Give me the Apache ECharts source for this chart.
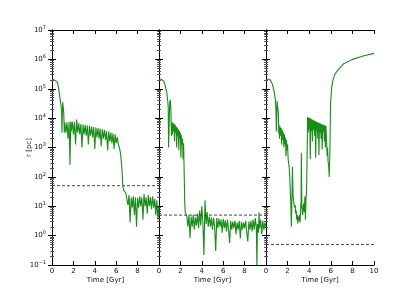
<!DOCTYPE html>
<html>
<head>
<meta charset="utf-8">
<script src="https://cdn.jsdelivr.net/npm/echarts@6/dist/echarts.min.js"></script>
<style>html,body{margin:0;padding:0;background:#fff}#c{width:416px;height:295px}</style>
</head>
<body>
<div id="c"></div>
<script>
// ---- data: [time Gyr, r pc] ----
const panel1 = [
 [0,2.0e5],[0.2,2.0e5],[0.38,1.95e5],[0.47,1.75e5],[0.56,1.4e5],[0.65,8.5e4],[0.75,5e4],[0.84,2.6e4],[0.9,1.8e4],[0.93,3.2e3],[1.0,3.5e4],[1.06,4.0e4],[1.1,1.5e4],[1.15,3.2e3],
 [1.2,7100],[1.3,3200],[1.4,7200],[1.5,2000],[1.6,7400],[1.68,260],[1.75,7600],[1.8,3500],[1.9,7600],[2.0,2800],[2.1,7400],[2.2,1260],[2.3,8900],[2.4,3200],
 [2.5,6600],[2.6,2800],[2.7,6300],[2.8,1000],[2.9,6000],[3.0,2800],[3.1,5800],[3.2,2500],[3.3,5600],[3.4,1260],[3.5,5500],[3.6,2500],[3.7,5200],[3.8,2200],
 [3.9,5000],[4.0,890],[4.1,4800],[4.2,2200],[4.3,4600],[4.4,2000],[4.5,4400],[4.6,1100],[4.7,4200],[4.8,2000],[4.9,4000],[5.0,1800],[5.1,3600],[5.2,800],
 [5.3,3500],[5.4,1600],[5.5,3200],[5.6,1400],[5.7,3000],[5.8,890],[5.9,2800],[6.0,1400],[6.1,2200],[6.2,1260],[6.3,1000],[6.4,630],[6.5,280],[6.55,160],
 [6.6,56],[6.7,35],[6.8,32],[6.9,28],[7.0,25],[7.1,11],[7.2,24],[7.3,2.8],[7.4,20],[7.5,8.9],[7.6,22],[7.7,5.0],[7.8,20],[7.9,2.0],[8.0,19],[8.1,8.9],
 [8.2,22],[8.3,10],[8.4,20],[8.5,3.5],[8.6,26],[8.7,10],[8.8,20],[8.9,5.6],[9.0,24],[9.1,10],[9.2,20],[9.3,7.9],[9.4,22],[9.5,8.9],[9.6,18],[9.7,5.0],
 [9.8,16],[9.9,3.5],[10.0,10]
];
const panel2 = [
 [0,2.1e5],[0.2,2.1e5],[0.35,2.0e5],[0.45,1.8e5],[0.55,1.4e5],[0.65,1.0e5],[0.72,8e4],[0.81,4e4],[0.86,2.5e4],[0.9,1.0e3],[1.0,3.5e4],[1.07,4.2e4],[1.12,1.5e4],[1.16,2.5e3],
 [1.2,7100],[1.25,2800],[1.3,7100],[1.35,3500],[1.4,6300],[1.45,1600],[1.5,6000],[1.55,3200],[1.6,5200],[1.65,1000],[1.7,4800],[1.75,2500],[1.8,4200],[1.85,800],
 [1.9,3800],[1.95,2000],[2.0,3200],[2.05,450],[2.1,2600],[2.15,1260],[2.2,2000],[2.25,400],[2.3,1400],[2.35,160],[2.4,16],[2.45,6.3],[2.5,5.6],
 [2.6,4.5],[2.7,2.0],[2.8,5.0],[2.9,0.85],[3.0,4.5],[3.1,2.0],[3.2,5.2],[3.3,1.6],[3.4,4.2],[3.5,2.2],[3.6,5.6],[3.7,1.8],[3.8,7.1],[3.9,2.2],[4.0,10],
 [4.1,2.8],[4.2,0.22],[4.3,16],[4.4,2.5],[4.5,6.3],[4.6,2.0],[4.7,4.5],[4.8,2.0],[4.9,4.2],[5.0,1.6],[5.1,4.0],[5.2,2.0],[5.3,0.3],[5.4,4.0],[5.5,1.8],
 [5.6,3.8],[5.7,2.0],[5.8,3.5],[5.9,1.26],[6.0,3.7],[6.1,1.8],[6.2,3.3],[6.3,1.4],[6.4,3.5],[6.5,1.6],[6.6,0.56],[6.7,3.2],[6.8,1.6],[6.9,3.0],[7.0,1.8],
 [7.1,3.2],[7.2,1.12],[7.3,2.8],[7.4,1.6],[7.5,3.2],[7.6,0.8],[7.7,2.95],[7.8,1.6],[7.9,2.8],[8.0,1.8],[8.1,3.2],[8.2,1.26],[8.3,0.63],[8.4,3.0],[8.5,1.6],
 [8.6,3.2],[8.7,1.4],[8.8,3.5],[8.9,1.6],[9.0,4.0],[9.1,1.8],[9.15,0.08],[9.2,2.5],[9.3,1.26],[9.35,6.3],[9.4,1.8],[9.5,3.5],[9.6,1.12],[9.7,3.2],[9.8,1.6],
 [9.9,2.8],[10.0,2.0]
];
const panel3 = [
 [0,2.1e5],[0.2,2.1e5],[0.4,2.0e5],[0.5,1.8e5],[0.6,1.4e5],[0.7,1.0e5],[0.78,7e4],[0.86,4.5e4],[0.92,2e4],[0.96,3.5e3],[1.03,3.8e4],[1.1,4.2e4],[1.14,1.5e4],[1.18,3.0e3],
 [1.2,6000],[1.25,2000],[1.3,5200],[1.35,2500],[1.4,4600],[1.45,1260],[1.5,4000],[1.55,1800],[1.6,3300],[1.65,1000],[1.7,2800],[1.75,1260],[1.8,2200],[1.85,500],
 [1.9,1800],[1.95,800],[2.0,1260],[2.05,400],[2.1,350],[2.15,200],[2.2,100],[2.25,32],[2.3,12.6],[2.35,2.0],[2.4,16],[2.45,220],[2.5,25],[2.55,16],[2.6,18],
 [2.65,8.9],[2.7,11],[2.75,5.6],[2.8,7.1],[2.85,3.5],[2.9,5.0],[2.95,2.6],[3.0,4.5],[3.05,3.2],[3.1,5.0],[3.15,2.8],[3.2,6.3],[3.25,16],[3.27,660],[3.32,10],
 [3.35,7.9],[3.4,5.0],[3.45,10],[3.5,12.6],[3.55,6.3],[3.6,22],[3.65,3.5],[3.7,16],[3.75,28],[3.8,320],
 [3.85,11000],[3.9,3200],[3.95,10500],[4.0,4000],[4.05,10000],[4.1,400],[4.15,9500],[4.2,3500],[4.25,9100],[4.3,1600],[4.35,8700],[4.4,4000],[4.45,8300],
 [4.5,2500],[4.55,7900],[4.6,450],[4.65,7600],[4.7,3500],[4.75,7200],[4.8,2000],[4.85,7100],[4.9,560],[4.95,6800],[5.0,3200],[5.05,6600],[5.1,2000],
 [5.15,6300],[5.2,850],[5.25,6000],[5.3,3500],[5.35,5900],[5.4,1600],[5.45,5600],[5.5,1000],[5.55,5500],[5.6,5200],[5.66,500],[5.7,1000],[5.75,320],
 [5.8,250],[5.86,100],[5.92,1000],[5.98,3.2e4],[6.08,1.1e5],[6.2,2.0e5],[6.4,3.2e5],[6.7,4.5e5],[7.2,7.1e5],[8.0,1.0e6],[9.0,1.3e6],[10.0,1.6e6]
];
const dashLevels = [50, 5, 0.5];
const xTicks = [0, 2, 4, 6, 8, 10];
const yExtent = [0.1, 1e7];
const xLabel = 'Time [Gyr]';
const yLabel = 'r [pc]';
const panels = [panel1, panel2, panel3];

// ---- chart ----
const chart = echarts.init(document.getElementById('c'), null, {renderer: 'canvas'});
const lefts = [52, 159, 266];
const widths = [107, 107, 108];
const FONT = 'DejaVu Sans';
const grids = [], xAxes = [], yAxes = [], series = [];
panels.forEach((data, i) => {
  grids.push({left: lefts[i], top: 30, width: widths[i], height: 235, containLabel: false});
  const axisLineStyle = {show: true, lineStyle: {color: '#000', width: 1}};
  xAxes.push({
    type: 'value', gridIndex: i, min: xTicks[0], max: xTicks[xTicks.length - 1], interval: 2,
    position: 'bottom',
    axisLine: axisLineStyle,
    axisTick: {show: true, inside: true, length: 4, lineStyle: {color: '#000'}},
    splitLine: {show: false},
    axisLabel: {show: true, fontFamily: FONT, fontSize: 7, color: '#111', margin: 3, showMaxLabel: i === 2,
      formatter: v => String(v)},
    name: xLabel, nameLocation: 'middle', nameGap: 12, nameMoveOverlap: false,
    nameTextStyle: {fontFamily: FONT, fontSize: 7, color: '#111'}
  });
  xAxes.push({
    type: 'value', gridIndex: i, min: 0, max: 10, interval: 2, position: 'top',
    axisLine: axisLineStyle,
    axisTick: {show: true, inside: true, length: 4, lineStyle: {color: '#000'}},
    splitLine: {show: false}, axisLabel: {show: false}
  });
  const yCommon = {
    type: 'log', logBase: 10, gridIndex: i, min: yExtent[0], max: yExtent[1],
    axisLine: axisLineStyle,
    axisTick: {show: true, inside: true, length: 4, lineStyle: {color: '#000'}},
    minorTick: {show: true, splitNumber: 9, length: 2, lineStyle: {color: '#555'}},
    splitLine: {show: false}
  };
  yAxes.push(Object.assign({}, yCommon, {
    position: 'left',
    axisLabel: {show: i === 0, margin: 6, fontFamily: FONT, color: '#111',
      formatter: v => {
        const e = Math.round(Math.log10(v));
        const es = String(e).replace('-', '\u2212');
        return '{b|10}{s|' + es + '}';
      },
      rich: {b: {fontFamily: FONT, fontSize: 7, color: '#111'}, s: {fontFamily: FONT, fontSize: 5, color: '#111', verticalAlign: 'top', padding: [0, 0, 5, 0]}}
    },
    name: i === 0 ? yLabel : '', nameLocation: 'middle', nameGap: 19, nameRotate: 90, nameMoveOverlap: false,
    nameTextStyle: {fontFamily: FONT, fontSize: 7, color: '#111'}
  }));
  yAxes.push(Object.assign({}, yCommon, {position: 'right', axisLabel: {show: false}}));
  series.push({
    type: 'line', xAxisIndex: i * 2, yAxisIndex: i * 2, data: data, showSymbol: false, symbol: 'none',
    clip: true, animation: false, silent: true,
    lineStyle: {color: '#008000', width: 1.1, opacity: 0.9}
  });
  series.push({
    type: 'line', xAxisIndex: i * 2, yAxisIndex: i * 2, data: [[0, dashLevels[i]], [10, dashLevels[i]]],
    showSymbol: false, symbol: 'none', animation: false, silent: true,
    lineStyle: {color: '#444', width: 1, type: [3, 2]}
  });
});
chart.setOption({
  backgroundColor: '#fff', animation: false,
  grid: grids, xAxis: xAxes, yAxis: yAxes, series: series
});
</script>
</body>
</html>
